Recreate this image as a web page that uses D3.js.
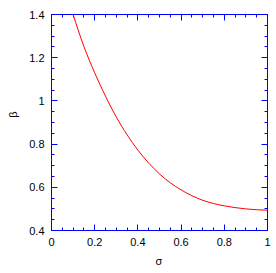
<!DOCTYPE html>
<html>
<head>
<meta charset="utf-8">
<script src="https://cdn.jsdelivr.net/npm/d3@7"></script>
<style>
body { margin: 0; background: #fff; }
text { font-family: "Liberation Sans", Arial, sans-serif; }
</style>
</head>
<body>
<svg width="276" height="273"></svg>
<script>
var svg = d3.select('svg');

// data
var sigma = [0.1, 0.15, 0.2, 0.25, 0.3, 0.35, 0.4, 0.45, 0.5, 0.55, 0.6, 0.65, 0.7, 0.75, 0.8, 0.85, 0.9, 0.95, 1.0];
var beta = [1.4, 1.252, 1.13, 1.022, 0.925, 0.843, 0.772, 0.712, 0.662, 0.621, 0.588, 0.561, 0.54, 0.525, 0.514, 0.506, 0.5, 0.496, 0.494];
var xTicks = [0, 0.2, 0.4, 0.6, 0.8, 1];
var yTicks = [0.4, 0.6, 0.8, 1, 1.2, 1.4];

var pLeft = 51.5, pRight = 267.5, pTop = 14.5, pBottom = 230.5;
var blue = '#0000ff';

var x = d3.scaleLinear().domain([0, 1]).range([pLeft, pRight]);
var y = d3.scaleLinear().domain([0.4, 1.4]).range([pBottom, pTop]);

// minor ticks every 0.05
var xMinor = d3.range(0, 1.0001, 0.05);
var yMinor = d3.range(0.4, 1.4001, 0.05);

var g = svg.append('g');

// inward ticks on all four sides
function isMajor(v) { return Math.abs(v * 5 - Math.round(v * 5)) < 1e-6; }

xMinor.forEach(function (v) {
    var len = isMajor(v) ? 6 : 3;
    var px = Math.round(x(v) - 0.5) + 0.5;
    g.append('line').attr('x1', px).attr('x2', px).attr('y1', pBottom).attr('y2', pBottom - len).attr('stroke', blue);
    g.append('line').attr('x1', px).attr('x2', px).attr('y1', pTop).attr('y2', pTop + len).attr('stroke', blue);
});
yMinor.forEach(function (v) {
    var len = isMajor(v) ? 6 : 3;
    var py = Math.round(y(v) - 0.5) + 0.5;
    g.append('line').attr('y1', py).attr('y2', py).attr('x1', pLeft).attr('x2', pLeft + len).attr('stroke', blue);
    g.append('line').attr('y1', py).attr('y2', py).attr('x1', pRight).attr('x2', pRight - len).attr('stroke', blue);
});

g.append('rect')
    .attr('x', pLeft).attr('y', pTop)
    .attr('width', pRight - pLeft).attr('height', pBottom - pTop)
    .attr('fill', 'none').attr('stroke', blue);

// tick labels
svg.selectAll('text.xt')
    .data(xTicks)
    .enter()
    .append('text')
    .attr('class', 'xt')
    .attr('x', function (d) { return x(d); })
    .attr('y', 246)
    .attr('text-anchor', 'middle')
    .attr('font-size', 11)
    .text(function (d) { return d; });

svg.selectAll('text.yt')
    .data(yTicks)
    .enter()
    .append('text')
    .attr('class', 'yt')
    .attr('x', 44.5)
    .attr('y', function (d) { return y(d) + 4; })
    .attr('text-anchor', 'end')
    .attr('font-size', 11)
    .text(function (d) { return d; });

// axis titles
svg.append('text')
    .attr('x', 159).attr('y', 265)
    .attr('text-anchor', 'middle')
    .attr('font-size', 11)
    .text('σ');

svg.append('text')
    .attr('transform', 'translate(17,114.5) rotate(-90)')
    .attr('text-anchor', 'middle')
    .attr('font-size', 11)
    .text('β');

// curve
var line = d3.line()
    .x(function (d, i) { return x(sigma[i]); })
    .y(function (d) { return y(d); })
    .curve(d3.curveMonotoneX);

svg.append('path')
    .datum(beta)
    .attr('d', line)
    .attr('fill', 'none')
    .attr('stroke', '#ff0000')
    .attr('stroke-width', 1);
</script>
</body>
</html>
